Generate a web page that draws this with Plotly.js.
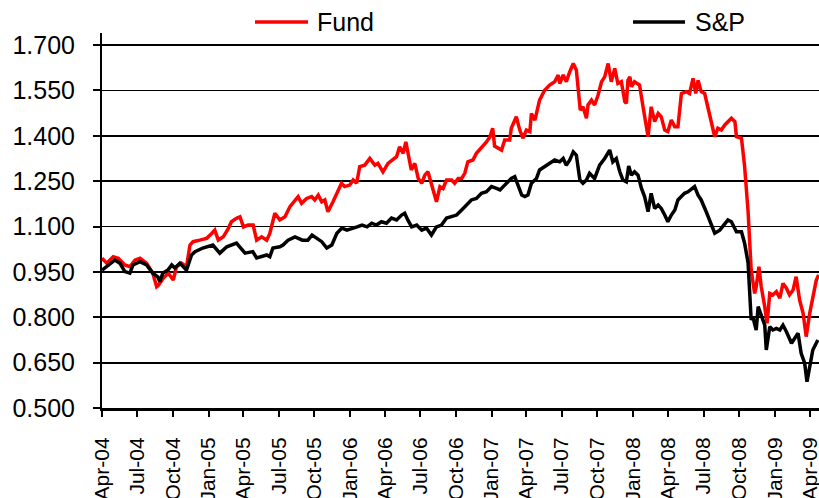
<!DOCTYPE html>
<html>
<head>
<meta charset="utf-8">
<script src="https://cdn.plot.ly/plotly-3.0.1.min.js"></script>
<style>html,body{margin:0;padding:0;background:#fff}#chart{width:819px;height:498px}</style>
</head>
<body>
<div id="chart"></div>
<script>
// Fund series (date, value)
const fundDates = [
"2004-04-01","2004-04-13","2004-04-30","2004-05-13","2004-05-30","2004-06-12","2004-06-25","2004-07-08","2004-07-25","2004-08-10",
"2004-08-20","2004-08-24","2004-09-06","2004-09-19","2004-10-02","2004-10-10","2004-10-23","2004-11-05","2004-11-14","2004-11-22",
"2004-12-09","2004-12-27","2005-01-09","2005-01-17","2005-01-26","2005-02-08","2005-02-21","2005-03-01","2005-03-14","2005-03-23",
"2005-04-01","2005-04-13","2005-04-26","2005-05-05","2005-05-18","2005-05-31","2005-06-08","2005-06-21","2005-07-04","2005-07-17",
"2005-07-30","2005-08-12","2005-08-20","2005-08-29","2005-09-11","2005-09-24","2005-10-02","2005-10-11","2005-10-20","2005-10-28",
"2005-11-05","2005-11-18","2005-12-01","2005-12-10","2005-12-18","2005-12-31","2006-01-09","2006-01-18","2006-01-26","2006-02-08",
"2006-02-21","2006-03-06","2006-03-14","2006-03-27","2006-04-09","2006-04-22","2006-05-01","2006-05-09","2006-05-18","2006-05-25",
"2006-05-31","2006-06-08","2006-06-17","2006-06-26","2006-07-05","2006-07-13","2006-07-21","2006-07-30","2006-08-08","2006-08-12",
"2006-08-21","2006-08-29","2006-09-07","2006-09-20","2006-09-28","2006-10-07","2006-10-16","2006-10-24","2006-11-01","2006-11-14",
"2006-11-23","2006-12-06","2006-12-19","2006-12-28","2007-01-04","2007-01-09","2007-01-18","2007-01-27","2007-02-04","2007-02-17",
"2007-02-21","2007-03-06","2007-03-15","2007-03-23","2007-04-01","2007-04-10","2007-04-14","2007-04-23","2007-05-05","2007-05-18",
"2007-05-31","2007-06-13","2007-06-22","2007-06-26","2007-07-05","2007-07-13","2007-07-22","2007-07-31","2007-08-08","2007-08-12",
"2007-08-18","2007-08-25","2007-09-03","2007-09-07","2007-09-16","2007-09-24","2007-10-03","2007-10-12","2007-10-20","2007-10-29",
"2007-11-06","2007-11-15","2007-11-23","2007-12-02","2007-12-11","2007-12-15","2007-12-19","2007-12-24","2007-12-28","2008-01-05",
"2008-01-18","2008-01-27","2008-02-04","2008-02-09","2008-02-17","2008-02-26","2008-03-06","2008-03-14","2008-03-23","2008-03-31",
"2008-04-09","2008-04-18","2008-04-26","2008-05-05","2008-05-18","2008-05-26","2008-06-04","2008-06-11","2008-06-17","2008-06-25",
"2008-07-04","2008-07-13","2008-07-21","2008-07-30","2008-08-07","2008-08-16","2008-08-25","2008-09-02","2008-09-11","2008-09-20",
"2008-09-24","2008-10-07","2008-10-15","2008-10-24","2008-10-28","2008-11-01","2008-11-10","2008-11-14","2008-11-21","2008-11-27",
"2008-12-06","2008-12-12","2008-12-19","2008-12-27","2009-01-05","2009-01-14","2009-01-22","2009-01-31","2009-02-08","2009-02-17",
"2009-02-25","2009-03-06","2009-03-15","2009-03-23","2009-04-01","2009-04-09","2009-04-18","2009-04-24"
];
const fundValues = [
0.995,0.979,1.000,0.995,0.973,0.967,0.989,0.995,0.979,0.946,
0.901,0.905,0.929,0.946,0.923,0.967,0.979,0.967,1.039,1.050,
1.055,1.061,1.077,1.088,1.055,1.066,1.094,1.116,1.127,1.132,
1.099,1.105,1.105,1.055,1.066,1.055,1.077,1.144,1.122,1.132,
1.166,1.188,1.199,1.177,1.193,1.199,1.188,1.204,1.182,1.188,
1.149,1.182,1.215,1.243,1.232,1.237,1.254,1.243,1.298,1.303,
1.325,1.303,1.309,1.281,1.309,1.320,1.331,1.364,1.342,1.380,
1.342,1.287,1.309,1.259,1.243,1.270,1.281,1.243,1.199,1.182,
1.232,1.226,1.254,1.254,1.243,1.259,1.259,1.276,1.314,1.320,
1.342,1.359,1.380,1.397,1.425,1.366,1.359,1.353,1.386,1.386,
1.425,1.463,1.419,1.392,1.419,1.414,1.474,1.452,1.518,1.551,
1.568,1.579,1.601,1.573,1.601,1.579,1.612,1.639,1.617,1.562,
1.485,1.496,1.458,1.502,1.518,1.502,1.535,1.579,1.595,1.639,
1.579,1.623,1.573,1.579,1.513,1.507,1.584,1.595,1.562,1.579,
1.568,1.496,1.430,1.397,1.496,1.447,1.474,1.463,1.419,1.414,
1.452,1.430,1.430,1.540,1.546,1.540,1.590,1.540,1.584,1.546,
1.540,1.491,1.452,1.397,1.425,1.419,1.436,1.447,1.458,1.447,
1.397,1.392,1.300,1.150,1.022,0.956,0.879,0.901,0.967,0.901,
0.835,0.780,0.879,0.874,0.885,0.863,0.912,0.896,0.874,0.890,
0.934,0.857,0.813,0.736,0.813,0.863,0.923,0.940
];
// S&P series (date, value)
const spDates = [
"2004-04-01","2004-04-13","2004-05-04","2004-05-17","2004-05-30","2004-06-12","2004-06-20","2004-07-08","2004-07-25","2004-08-10",
"2004-08-23","2004-08-28","2004-09-05","2004-09-18","2004-09-28","2004-10-06","2004-10-19","2004-11-05","2004-11-18","2004-11-27",
"2004-12-17","2005-01-12","2005-01-30","2005-02-17","2005-03-14","2005-04-05","2005-04-25","2005-05-05","2005-05-31","2005-06-08",
"2005-06-16","2005-07-04","2005-07-12","2005-07-25","2005-08-12","2005-08-31","2005-09-14","2005-09-25","2005-10-07","2005-10-20",
"2005-11-02","2005-11-15","2005-11-28","2005-12-11","2005-12-24","2006-01-06","2006-01-19","2006-02-01","2006-02-14","2006-02-26",
"2006-03-10","2006-03-23","2006-04-05","2006-04-18","2006-05-01","2006-05-14","2006-05-22","2006-05-30","2006-06-09","2006-06-22",
"2006-07-05","2006-07-17","2006-07-30","2006-08-12","2006-08-25","2006-09-07","2006-09-20","2006-10-03","2006-10-16","2006-10-29",
"2006-11-10","2006-11-23","2006-12-06","2006-12-19","2007-01-01","2007-01-14","2007-01-23","2007-02-04","2007-02-13","2007-02-21",
"2007-03-02","2007-03-11","2007-03-20","2007-03-28","2007-04-05","2007-04-14","2007-04-27","2007-05-05","2007-05-18","2007-05-31",
"2007-06-13","2007-06-26","2007-07-05","2007-07-13","2007-07-22","2007-07-31","2007-08-08","2007-08-17","2007-08-25","2007-09-03",
"2007-09-11","2007-09-24","2007-10-07","2007-10-20","2007-11-02","2007-11-10","2007-11-19","2007-11-28","2007-12-06","2007-12-15",
"2007-12-21","2007-12-28","2008-01-05","2008-01-14","2008-01-23","2008-01-31","2008-02-09","2008-02-17","2008-02-26","2008-03-06",
"2008-03-14","2008-03-23","2008-03-31","2008-04-09","2008-04-18","2008-04-26","2008-05-05","2008-05-13","2008-05-22","2008-05-31",
"2008-06-08","2008-06-17","2008-06-25","2008-07-08","2008-07-21","2008-07-30","2008-08-12","2008-08-25","2008-09-02","2008-09-11",
"2008-09-24","2008-10-07","2008-10-15","2008-10-24","2008-10-28","2008-11-01","2008-11-05","2008-11-10","2008-11-14","2008-11-19",
"2008-11-27","2008-12-06","2008-12-10","2008-12-19","2008-12-27","2009-01-05","2009-01-14","2009-01-22","2009-01-31","2009-02-13",
"2009-02-21","2009-03-02","2009-03-10","2009-03-19","2009-03-25","2009-04-01","2009-04-09","2009-04-22"
];
const spValues = [
0.956,0.967,0.989,0.979,0.951,0.946,0.973,0.984,0.973,0.946,
0.934,0.918,0.946,0.956,0.973,0.963,0.979,0.956,1.006,1.017,
1.029,1.039,1.012,1.033,1.045,1.012,1.017,0.996,1.006,1.000,
1.029,1.033,1.039,1.055,1.066,1.055,1.055,1.072,1.062,1.050,
1.029,1.039,1.078,1.095,1.088,1.095,1.099,1.105,1.099,1.111,
1.105,1.116,1.111,1.128,1.122,1.138,1.144,1.122,1.099,1.105,
1.088,1.095,1.072,1.099,1.105,1.128,1.132,1.138,1.155,1.171,
1.188,1.193,1.210,1.215,1.232,1.226,1.221,1.237,1.248,1.259,
1.265,1.232,1.204,1.199,1.204,1.243,1.259,1.287,1.298,1.309,
1.320,1.314,1.325,1.303,1.320,1.347,1.336,1.254,1.243,1.254,
1.276,1.259,1.303,1.325,1.353,1.314,1.325,1.281,1.254,1.248,
1.300,1.270,1.281,1.270,1.226,1.199,1.149,1.210,1.160,1.171,
1.160,1.138,1.116,1.138,1.155,1.188,1.199,1.210,1.215,1.226,
1.232,1.204,1.188,1.149,1.110,1.078,1.088,1.110,1.122,1.116,
1.083,1.083,1.045,0.980,0.870,0.791,0.802,0.780,0.758,0.835,
0.802,0.774,0.692,0.769,0.758,0.763,0.758,0.774,0.752,0.714,
0.730,0.747,0.681,0.648,0.587,0.637,0.692,0.725
];
const seriesNames = ["Fund", "S&P"];
const seriesColors = ["#ff0000", "#000000"];
const yTickVals = [0.5, 0.65, 0.8, 0.95, 1.1, 1.25, 1.4, 1.55, 1.7];
const yTickText = ["0.500","0.650","0.800","0.950","1.100","1.250","1.400","1.550","1.700"];

const font = "Arial, 'Liberation Sans', sans-serif";
const traces = [
  {x: fundDates, y: fundValues, name: seriesNames[0], type: "scatter", mode: "lines",
   line: {color: seriesColors[0], width: 3.5}},
  {x: spDates, y: spValues, name: seriesNames[1], type: "scatter", mode: "lines",
   line: {color: seriesColors[1], width: 3.5}}
];

// Legend drawn as key lines + text above the plot (paper coordinates)
const plotL = 102, plotW = 717, plotB = 408, plotH = 375;
const px = v => (v - plotL) / plotW;
const py = v => (plotB - v) / plotH;
const legendKeys = [[255, 308, 315], [633, 685, 693]];
const shapes = legendKeys.map((k, i) => ({
  type: "line", xref: "paper", yref: "paper",
  x0: px(k[0]), x1: px(k[1]), y0: py(22), y1: py(22),
  line: {color: seriesColors[i], width: 3.5}
}));
const annotations = legendKeys.map((k, i) => ({
  xref: "paper", yref: "paper", x: px(k[2]), y: py(22),
  xanchor: "left", yanchor: "middle", showarrow: false,
  text: seriesNames[i], font: {size: 25, family: font, color: "#000"}
}));

const layout = {
  width: 819, height: 498,
  margin: {l: 102, r: 0, t: 33, b: 90, pad: 0},
  paper_bgcolor: "#ffffff", plot_bgcolor: "#ffffff",
  font: {family: font, color: "#000000"},
  showlegend: false,
  shapes: shapes, annotations: annotations,
  xaxis: {
    type: "date", range: ["2004-04-01", "2009-04-25"],
    tick0: "2004-04-01", dtick: "M3", tickformat: "%b-%y", tickangle: -90,
    showgrid: false, zeroline: false,
    showline: true, linecolor: "#000", linewidth: 3,
    ticks: "outside", ticklen: 6, tickwidth: 2, tickcolor: "#000",
    tickfont: {size: 21, family: font}, ticklabelstandoff: 12,
    ticklabeloverflow: "allow", automargin: false
  },
  yaxis: {
    range: [0.5, 1.74], tickvals: yTickVals, ticktext: yTickText,
    showgrid: true, gridcolor: "#000", gridwidth: 1.8, zeroline: false,
    showline: true, linecolor: "#000", linewidth: 2,
    ticks: "outside", ticklen: 7, tickwidth: 2, tickcolor: "#000",
    tickfont: {size: 25, family: font}, ticklabelstandoff: 13, automargin: false
  }
};
Plotly.newPlot("chart", traces, layout, {displayModeBar: false, staticPlot: true});
</script>
</body>
</html>
